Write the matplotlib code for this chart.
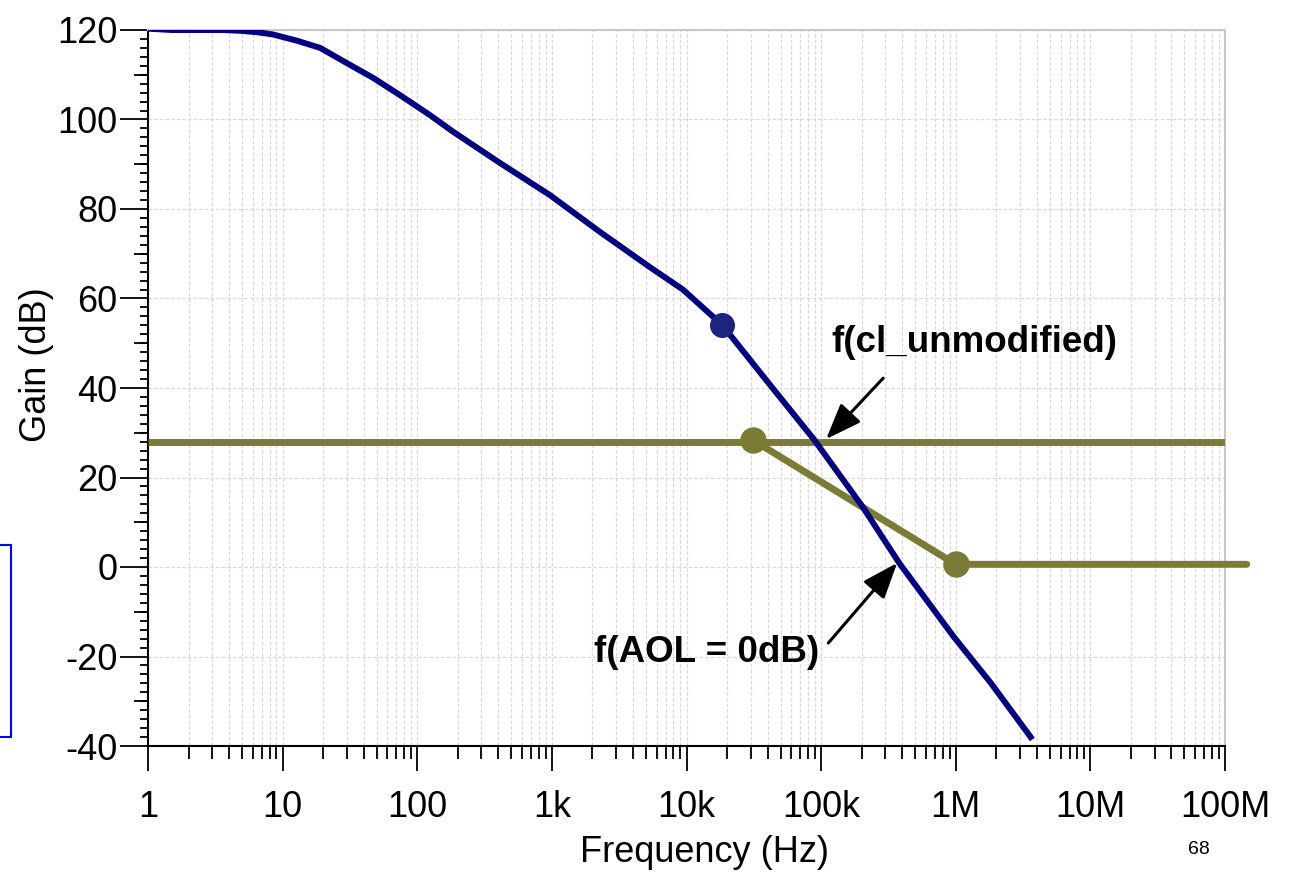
import matplotlib
matplotlib.use("Agg")
import matplotlib.pyplot as plt
from matplotlib.patches import Rectangle
from matplotlib.ticker import LogLocator, MultipleLocator, NullFormatter

plt.rcParams["font.family"] = ["Liberation Sans", "DejaVu Sans"]
plt.rcParams["axes.unicode_minus"] = False

# Open-loop gain curve
freq_aol = [1, 1.5, 3.6, 5, 6.5, 8.5, 12.8, 19, 30, 47, 74, 124, 184, 411,
            968, 2270, 5350, 9400, 15000, 18400, 39000, 89000, 204000,
            380000, 966000, 1820000, 3600000]
gain_aol = [120.3, 120, 120, 119.8, 119.5, 119.0, 117.6, 116, 112.6, 109.3,
            105.5, 101, 97.3, 90.3, 83.1, 74.9, 67.0, 62.0, 56.5, 54.1, 41.8,
            28.4, 13.4, 0.9, -15.6, -25.9, -38]

# marker on the open-loop curve
aol_dot_f = [18400]
aol_dot_g = [54.1]

# closed-loop (unmodified) flat line
freq_cl = [1, 1.0e8]
gain_cl = [28, 28]

# modified closed loop response
freq_mod = [31000, 1.0e6, 1.45e8]
gain_mod = [28.4, 0.6, 0.6]
mod_dot_f = [31000, 1.0e6]
mod_dot_g = [28.4, 0.6]

xticks = [1, 10, 100, 1e3, 1e4, 1e5, 1e6, 1e7, 1e8]
xlabels = ["1", "10", "100", "1k", "10k", "100k", "1M", "10M", "100M"]
yticks = [-40, -20, 0, 20, 40, 60, 80, 100, 120]

BLUE = "#000080"
BLUE_DOT = "#1b2580"
OLIVE = "#7b7b35"
FS = 26

fig = plt.figure(figsize=(13.01, 8.74), dpi=100)
ax = fig.add_axes([148 / 1301, 1 - 746 / 874, (1225 - 148) / 1301, (746 - 30) / 874])

ax.set_xscale("log")
ax.set_xlim(1, 1e8)
ax.set_ylim(-40, 120)

# grid
ax.xaxis.set_minor_locator(LogLocator(base=10, subs=range(2, 10), numticks=20))
ax.xaxis.set_minor_formatter(NullFormatter())
ax.grid(True, which="both", axis="x", color="#dadada", lw=0.9, ls=(0, (3, 1.5)))
ax.grid(True, which="major", axis="y", color="#dadada", lw=0.9, ls=(0, (3, 1.5)))
ax.set_axisbelow(True)

# curves
ax.plot(freq_cl, gain_cl, color=OLIVE, lw=5, solid_capstyle="butt", zorder=3)
ax.plot(freq_mod, gain_mod, color=OLIVE, lw=5, solid_capstyle="round", clip_on=False, zorder=3)
ax.plot(mod_dot_f, mod_dot_g, "o", color=OLIVE, ms=18, zorder=4, clip_on=False)
ax.plot(freq_aol, gain_aol, color=BLUE, lw=4.3, solid_joinstyle="round", zorder=5)
ax.plot(aol_dot_f, aol_dot_g, "o", color=BLUE_DOT, ms=17, zorder=6)

# ticks
ax.set_xticks(xticks)
ax.set_xticklabels(xlabels)
ax.set_yticks(yticks)
ax.yaxis.set_minor_locator(MultipleLocator(2))
ax.tick_params(axis="x", which="major", direction="out", length=18, width=1.3,
               labelsize=FS, pad=14)
ax.tick_params(axis="x", which="minor", direction="out", length=9, width=1.3)
ax.tick_params(axis="y", which="major", direction="out", length=20, width=1.3,
               labelsize=FS, pad=2)
ax.tick_params(axis="y", which="minor", direction="out", length=6, width=1.3)

# medium ticks every 10 dB
sec = ax.secondary_yaxis("left")
sec.set_yticks([-30, -10, 10, 30, 50, 70, 90, 110])
sec.set_yticklabels([])
sec.tick_params(axis="y", direction="out", length=10, width=1.3)
sec.spines["left"].set_visible(False)

for s in ("left", "bottom"):
    ax.spines[s].set_color("black")
    ax.spines[s].set_linewidth(1.5)
for s in ("top", "right"):
    ax.spines[s].set_color("#c8c8c8")
    ax.spines[s].set_linewidth(1.5)

# axis labels
fig.text(36 / 1301, 1 - 365 / 874, "Gain (dB)", rotation=90, fontsize=FS,
         ha="center", va="center")
fig.text(704 / 1301, 1 - 853 / 874, "Frequency (Hz)", fontsize=FS,
         ha="center", va="center")
fig.text(1199 / 1301, 1 - 849 / 874, "68", fontsize=14, ha="center", va="center")

# annotations
arrow = dict(arrowstyle="-|>,head_length=1.1,head_width=0.42", color="black",
             lw=2.2, mutation_scale=20, shrinkA=0, shrinkB=0)
ax.annotate("", xy=(109000, 28.6), xytext=(289000, 42.2), arrowprops=arrow, zorder=7)
ax.text(1.37e6, 50.1, "f(cl_unmodified)", fontsize=26.5, fontweight="bold",
        ha="center", va="center", zorder=7)
ax.annotate("", xy=(367000, 0.9), xytext=(113000, -17), arrowprops=arrow, zorder=7)
ax.text(14200, -19, "f(AOL = 0dB)", fontsize=26.5, fontweight="bold",
        ha="center", va="center", zorder=7)

# stray blue frame at the left edge
fig.patches.append(Rectangle((-0.01, 1 - 737 / 874), 0.01 + 11 / 1301, (737 - 545) / 874,
                             transform=fig.transFigure, fill=False,
                             edgecolor="#0000ff", lw=1.5))

fig.savefig("out.png", dpi=100)
